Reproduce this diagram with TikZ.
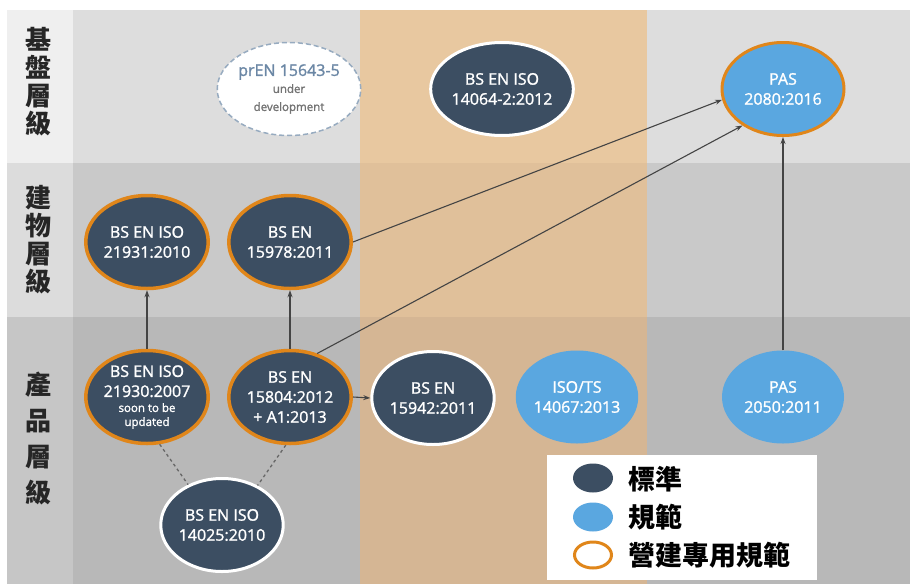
\documentclass[tikz,border=0pt]{standalone}
\usepackage{fontspec}
\setmainfont{Open Sans}
\newfontfamily\nodefont{Open Sans}[FakeBold=1.4]
\newfontfamily\cjk{Noto Sans CJK TC}
\usetikzlibrary{shapes.geometric,arrows.meta}
\definecolor{lblA}{HTML}{EFEFEF}
\definecolor{lblB}{HTML}{DCDCDC}
\definecolor{lblC}{HTML}{C6C6C6}
\definecolor{grA}{HTML}{DDDDDD}
\definecolor{grB}{HTML}{C9C9C9}
\definecolor{grC}{HTML}{B8B8B8}
\definecolor{orA}{HTML}{E8C8A0}
\definecolor{orB}{HTML}{E0C09A}
\definecolor{orC}{HTML}{D5B694}
\definecolor{darkfill}{HTML}{3C4E62}
\definecolor{bluefill}{HTML}{5AA7E0}
\definecolor{orangeline}{HTML}{E0861A}
\definecolor{arrowc}{HTML}{444444}
\definecolor{dashc}{HTML}{666666}
\definecolor{prenc}{HTML}{6B87A5}
\tikzset{
  stdnode/.style={ellipse, minimum width=122pt, minimum height=93pt, inner sep=0pt,
    align=center, text=white, font=\nodefont\fontsize{16}{20}\selectfont},
  darkstd/.style={stdnode, fill=darkfill, draw=white, line width=3pt},
  darkcon/.style={stdnode, fill=darkfill, draw=orangeline, line width=3.5pt},
  bluespec/.style={stdnode, fill=bluefill},
  bluecon/.style={stdnode, fill=bluefill, draw=orangeline, line width=3pt},
  devnode/.style={stdnode, fill=white, draw=prenc!70, line width=1.5pt, text=prenc,
    dash pattern=on 5pt off 3pt},
  arr/.style={draw=arrowc, line width=1.1pt, -{Stealth[length=7pt,width=5pt]}},
  dashln/.style={draw=dashc, line width=1.3pt, dash pattern=on 3pt off 3pt},
  rowlbl/.style={font=\cjk\bfseries\fontsize{26}{28}\selectfont, text=black!85, align=center, inner sep=0pt},
  legtxt/.style={font=\cjk\bfseries\fontsize{27}{30}\selectfont, text=black, anchor=west, inner sep=0pt},
  legmark/.style={ellipse, minimum width=40pt, minimum height=29pt, inner sep=0pt}
}
\begin{document}
\begin{tikzpicture}[x=1pt,y=-1pt]
\useasboundingbox (0,0) rectangle (910,584);
\fill[white] (0,0) rectangle (910,584);
% label column
\fill[lblA] (7,10) rectangle (73,163);
\fill[lblB] (7,163) rectangle (73,317);
\fill[lblC] (7,317) rectangle (73,584);
% gray main
\fill[grA] (73,10) rectangle (910,163);
\fill[grB] (73,163) rectangle (910,317);
\fill[grC] (73,317) rectangle (910,584);
% orange column
\fill[orA] (360,10) rectangle (647,163);
\fill[orB] (360,163) rectangle (647,317);
\fill[orC] (360,317) rectangle (647,584);
% row labels
\node[rowlbl] (lblTop) at (38,82) {基\\盤\\層\\級};
\node[rowlbl] (lblMid) at (38,240) {建\\物\\層\\級};
\node[rowlbl, font=\cjk\bfseries\fontsize{26}{36}\selectfont] (lblBot) at (38,438) {產\\品\\層\\級};
% nodes
\node[devnode] (pren) at (289,89) {\fontsize{16}{18}\selectfont prEN 15643-5\\[-3pt]
  {\color{black!55}\fontsize{11.5}{12}\selectfont under}\\[-2pt]
  {\color{black!55}\fontsize{11.5}{12}\selectfont development}};
\node[darkstd] (n14064) at (502,89) {BS EN ISO\\14064-2:2012};
\node[bluecon] (pas2080) at (783,89) {PAS\\2080:2016};
\node[darkcon] (n21931) at (147,242) {BS EN ISO\\21931:2010};
\node[darkcon] (n15978) at (290,242) {BS EN\\15978:2011};
\node[darkcon] (n21930) at (147,397) {BS EN ISO\\21930:2007\\[-5pt]
  {\fontsize{11.5}{10}\selectfont soon to be}\\[-6pt]{\fontsize{11.5}{10}\selectfont updated}};
\node[darkcon] (n15804) at (290,397) {BS EN\\15804:2012\\+ A1:2013};
\node[darkstd] (n15942) at (433,398) {BS EN\\15942:2011};
\node[bluespec] (n14067) at (577,397) {ISO/TS\\14067:2013};
\node[bluespec] (pas2050) at (783,397) {PAS\\2050:2011};
\node[darkstd] (n14025) at (222,525) {BS EN ISO\\14025:2010};
% connectors
\draw[arr] (n21930) -- (n21931);
\draw[arr] (n15804) -- (n15978);
\draw[arr] (n15978.east) -- (pas2080.190);
\draw[arr] (n15804.58) -- (pas2080.222);
\draw[arr] (n15804.east) -- (n15942.west);
\draw[arr] (pas2050) -- (pas2080);
\draw[dashln] (n21930.285) -- (n14025.130);
\draw[dashln] (n15804.265) -- (n14025.48);
% legend
\fill[white] (547,455) rectangle (817,580);
\node[legmark, fill=darkfill] (legStd) at (593,478) {};
\node[legmark, fill=bluefill] (legSpec) at (593,517) {};
\node[legmark, draw=orangeline, line width=3pt, minimum width=37pt, minimum height=26pt] (legCon) at (593,555) {};
\node[legtxt] (legStdT) at (628,479) {標準};
\node[legtxt] (legSpecT) at (628,517) {規範};
\node[legtxt] (legConT) at (628,555) {營建專用規範};
\end{tikzpicture}
\end{document}
